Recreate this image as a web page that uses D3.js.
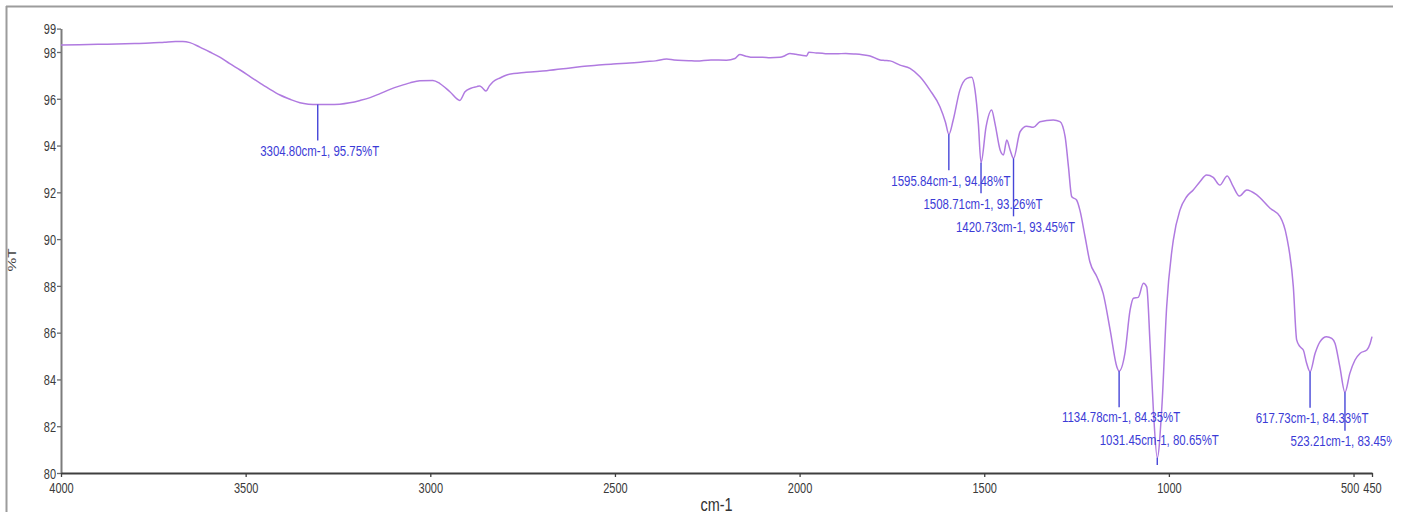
<!DOCTYPE html>
<html>
<head>
<meta charset="utf-8">
<script src="https://cdn.jsdelivr.net/npm/d3@7"></script>
<style>
  html, body { margin: 0; padding: 0; background: #ffffff; }
  svg { display: block; }
</style>
</head>
<body>
<svg id="chart" width="1410" height="518"></svg>
<script>
// FTIR spectrum: wavenumber (cm-1) and transmittance (%T)
const wavenumbers = [
  4000, 3950, 3900, 3850, 3800, 3759, 3720, 3690, 3670, 3651, 3624, 3597, 3570, 3543, 3515, 3488,
  3461, 3434, 3407, 3380, 3353, 3330, 3304.8, 3275, 3245, 3218, 3190, 3163, 3136, 3109, 3082, 3055,
  3028, 2993, 2974, 2947, 2920, 2906, 2890, 2874, 2866, 2858, 2849, 2840, 2830, 2810, 2793, 2740,
  2685, 2640, 2595, 2550, 2505, 2460, 2414, 2390, 2360, 2340, 2300, 2279, 2240, 2198, 2175, 2162,
  2145, 2126, 2100, 2080, 2053, 2040, 2026, 2010, 1995, 1981, 1975, 1955, 1930, 1900, 1875, 1848,
  1830, 1809, 1782, 1770, 1755, 1728, 1701, 1674, 1647, 1620, 1605, 1595.84, 1584, 1566, 1547, 1534,
  1525, 1516, 1508.71, 1495, 1480, 1471, 1457, 1448, 1439, 1430, 1420.73, 1403, 1385, 1367, 1349, 1313,
  1295, 1281, 1272, 1263, 1250, 1241, 1227, 1214, 1195, 1178, 1159, 1141, 1134.78, 1119, 1105, 1096,
  1083, 1069, 1060, 1051, 1042, 1031.45, 1019, 1006, 988, 970, 952, 934, 916, 898, 880, 862,
  842, 826, 809, 789, 762, 726, 699, 681, 663, 654, 645, 636, 627, 617.73, 604, 591,
  573, 559, 550, 537, 523.21, 510, 496, 482, 464, 455, 450
];
const transmittance = [
  98.30, 98.31, 98.33, 98.34, 98.36, 98.38, 98.42, 98.45, 98.45, 98.40, 98.21, 98.00, 97.78, 97.50, 97.23, 96.95,
  96.67, 96.40, 96.16, 95.98, 95.83, 95.77, 95.75, 95.75, 95.77, 95.83, 95.93, 96.05, 96.22, 96.40, 96.55, 96.68,
  96.77, 96.78, 96.65, 96.30, 95.93, 96.30, 96.45, 96.52, 96.55, 96.45, 96.33, 96.55, 96.73, 96.90, 97.02, 97.13,
  97.20, 97.28, 97.37, 97.43, 97.49, 97.53, 97.59, 97.62, 97.70, 97.66, 97.63, 97.61, 97.66, 97.65, 97.72, 97.89,
  97.82, 97.77, 97.78, 97.75, 97.77, 97.84, 97.94, 97.90, 97.86, 97.83, 97.99, 97.96, 97.93, 97.92, 97.94, 97.91,
  97.88, 97.83, 97.66, 97.64, 97.62, 97.44, 97.30, 96.94, 96.37, 95.66, 95.00, 94.48, 95.09, 96.37, 96.87, 96.92,
  96.37, 94.95, 93.26, 94.81, 95.52, 94.95, 93.81, 93.60, 94.24, 93.81, 93.45, 94.59, 94.83, 94.78, 95.02, 95.09,
  95.02, 94.38, 93.10, 91.81, 91.67, 91.24, 90.10, 89.03, 88.39, 87.68, 86.11, 84.54, 84.35, 85.12, 86.97, 87.47,
  87.51, 88.11, 87.96, 85.54, 82.69, 80.65, 82.83, 87.11, 89.96, 91.24, 91.81, 92.10, 92.45, 92.74, 92.64, 92.31,
  92.70, 92.25, 91.84, 92.10, 91.89, 91.32, 90.96, 90.10, 87.96, 85.69, 85.40, 85.26, 84.69, 84.33, 85.12, 85.61,
  85.83, 85.76, 85.54, 84.54, 83.45, 84.26, 84.83, 85.12, 85.26, 85.54, 85.83
];

// Picked peaks
const peakWavenumbers = [3304.80, 1595.84, 1508.71, 1420.73, 1134.78, 1031.45, 617.73, 523.21];
const peakTransmittance = [95.75, 94.48, 93.26, 93.45, 84.35, 80.65, 84.33, 83.45];

// Axis ticks
const xTickValues = [4000, 3500, 3000, 2500, 2000, 1500, 1000, 500, 450];
const yTickValues = [80, 82, 84, 86, 88, 90, 92, 94, 96, 98, 99];

const xTitle = "cm-1";
const yTitle = "%T";

// ---- layout ----
const FONT = '"Liberation Sans", Arial, sans-serif';
const SX = 0.74;               // horizontal text condensing
const TICK_SX = 0.71;
const plotLeft = 61, plotRight = 1372, plotTop = 28.6, plotBottom = 473;
const frameRight = 1393;

const svg = d3.select("#chart");

const x = d3.scaleLinear().domain([4000, 450]).range([plotLeft, plotRight]);
const y = d3.scaleLinear().domain([80, 99]).range([plotBottom, plotTop]);

// outer frame (left and top edges)
svg.append("line").attr("x1", 6.5).attr("x2", 6.5).attr("y1", 6).attr("y2", 512)
  .attr("stroke", "#9c9c9c").attr("stroke-width", 2);
svg.append("line").attr("x1", 6).attr("x2", frameRight).attr("y1", 6.5).attr("y2", 6.5)
  .attr("stroke", "#9c9c9c").attr("stroke-width", 2);

// clip for everything inside the frame
svg.append("defs").append("clipPath").attr("id", "frameClip")
  .append("rect").attr("x", 0).attr("y", 0).attr("width", frameRight - 1).attr("height", 518);

// y axis
const gy = svg.append("g")
  .attr("transform", `translate(${plotLeft},0)`)
  .call(d3.axisLeft(y).tickValues(yTickValues).tickFormat(d3.format("d")).tickSize(4).tickSizeOuter(0));
gy.attr("font-family", FONT).attr("font-size", 15.5);
gy.select(".domain").attr("stroke", "#7c7c7c").attr("stroke-width", 2);
gy.selectAll(".tick line").attr("stroke", "#6a6a6a").attr("stroke-width", 1.3);
gy.selectAll(".tick text")
  .attr("fill", "#3a3a3a")
  .attr("x", null)
  .attr("dy", "0.34em")
  .attr("transform", `translate(-5,0) scale(${TICK_SX},1)`);

// x axis
const gx = svg.append("g")
  .attr("transform", `translate(0,${plotBottom})`)
  .call(d3.axisBottom(x).tickValues(xTickValues).tickFormat(d3.format("d")).tickSize(4).tickSizeOuter(0));
gx.attr("font-family", FONT).attr("font-size", 15.5);
gx.select(".domain").attr("stroke", "#3f3f3f").attr("stroke-width", 2);
gx.selectAll(".tick line").attr("stroke", "#3f3f3f").attr("stroke-width", 1.3);

// keep crowded x tick labels apart: nudge a label left when it runs into the next one
const xTickTexts = gx.selectAll(".tick text").nodes();
const xTickInfo = xTickTexts.map((node, i) => {
  const w = node.getComputedTextLength() * TICK_SX;
  return { node, cx: x(xTickValues[i]), w, shift: 0 };
});
for (let i = xTickInfo.length - 2; i >= 0; i--) {
  const a = xTickInfo[i], b = xTickInfo[i + 1];
  const gap = (b.cx + b.shift - b.w / 2) - (a.cx + a.w / 2);
  if (gap < 4) a.shift = gap - 4;
}
xTickInfo.forEach(d => {
  d3.select(d.node)
    .attr("fill", "#3a3a3a")
    .attr("y", null)
    .attr("dy", null)
    .attr("transform", `translate(${d.shift},20) scale(${TICK_SX},1)`);
});

// axis titles
svg.append("text")
  .attr("transform", `translate(${(plotLeft + plotRight) / 2},511) scale(0.78,1)`)
  .attr("text-anchor", "middle")
  .attr("font-family", FONT).attr("font-size", 18.5)
  .attr("fill", "#333")
  .text(xTitle);

svg.append("text")
  .attr("transform", `translate(16,260) rotate(-90) scale(1,${SX})`)
  .attr("text-anchor", "middle")
  .attr("font-family", FONT).attr("font-size", 15.5)
  .attr("fill", "#444")
  .text(yTitle);

// spectrum trace
const spectrum = wavenumbers.map((w, i) => ({ w, t: transmittance[i] }));
const line = d3.line()
  .x(d => x(d.w))
  .y(d => y(d.t))
  .curve(d3.curveMonotoneX);

svg.append("path")
  .datum(spectrum)
  .attr("d", line)
  .attr("fill", "none")
  .attr("stroke", "#b07ae0")
  .attr("stroke-width", 1.5)
  .attr("stroke-linejoin", "round");

// peak annotations
const peaks = peakWavenumbers.map((w, i) => ({ w, t: peakTransmittance[i] }))
  .sort((a, b) => b.w - a.w);

const ann = svg.append("g").attr("clip-path", "url(#frameClip)");
const labelColor = "#3b3bd6";
const labelSize = 15.5;
const labelDrop = 40;       // label top below peak
const rowPitch = 23;        // stacking step for crowded labels
const lowestTop = plotBottom - 38;

let prev = null;
peaks.forEach(p => {
  const px = x(p.w), py = y(p.t);
  const txt = `${p.w.toFixed(2)}cm-1, ${p.t.toFixed(2)}%T`;
  const cx = px + 2;

  const t = ann.append("text")
    .attr("font-family", FONT).attr("font-size", labelSize)
    .attr("fill", labelColor)
    .attr("text-anchor", "middle")
    .text(txt);
  const w = t.node().getComputedTextLength() * SX;
  const x0 = cx - w / 2, x1 = cx + w / 2;

  let top = Math.min(py + labelDrop, lowestTop);
  // overlapping neighbours stack on successive rows under the previous label
  if (prev && x0 < prev.x1 + 2 && top < prev.top + 2 * rowPitch) top = prev.top + rowPitch;

  t.attr("transform", `translate(${cx},${top + 11.2}) scale(${SX},1)`);

  const yEnd = top > py + 6 ? top - 4 : Math.min(py + 34, plotBottom - 8);
  ann.append("line")
    .attr("x1", px).attr("x2", px)
    .attr("y1", py).attr("y2", yEnd)
    .attr("stroke", "#4646d8").attr("stroke-width", 1.4);

  prev = { x0, x1, top };
});
</script>
</body>
</html>
